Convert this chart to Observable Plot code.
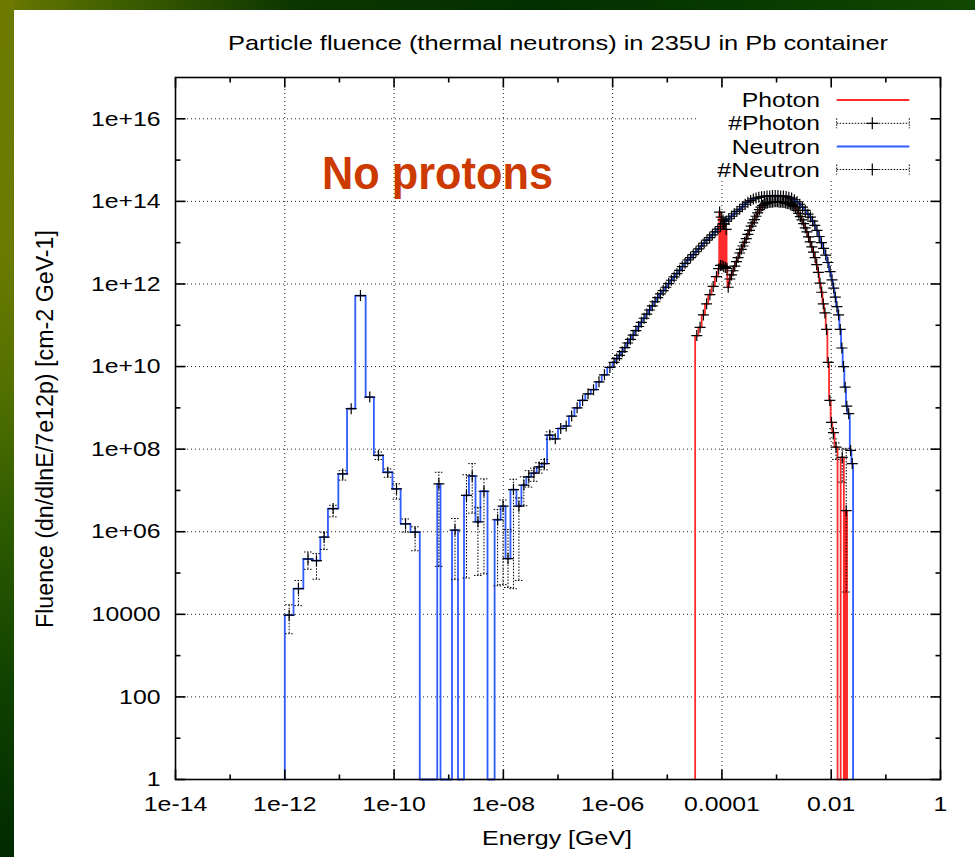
<!DOCTYPE html>
<html><head><meta charset="utf-8">
<script src="https://cdn.jsdelivr.net/npm/d3@7"></script>
<script src="https://cdn.jsdelivr.net/npm/@observablehq/plot@0.6"></script>
<style>
html,body{margin:0;padding:0;background:#fff;}
#page{position:relative;width:975px;height:857px;overflow:hidden;background:#fff;}
#bandTop{position:absolute;left:0;top:0;width:975px;height:10px;background:linear-gradient(to right,#6b7900 0%,#3f5f00 12%,#0c3600 30%,#023000 55%,#083c00 80%,#124800 100%);}
#bandLeft{position:absolute;left:0;top:0;width:14px;height:857px;background:linear-gradient(to bottom,#6c7a00 0%,#6a7a00 30%,#537000 45%,#2c5a00 62%,#0f4200 80%,#002a00 100%);}
#chart{position:absolute;left:0;top:0;}
#overlay{position:absolute;left:0;top:0;pointer-events:none;}
</style></head>
<body><div id="page"><div id="bandTop"></div><div id="bandLeft"></div><div id="chart"></div><svg id="overlay" width="975" height="857"></svg></div>
<script>
// ---- texts ----
const titleText = "Particle fluence (thermal neutrons) in 235U in Pb container";
const xLabelText = "Energy [GeV]";
const yLabelText = "Fluence (dn/dlnE/7e12p) [cm-2 GeV-1]";
const noteText = "No protons";
const legendLabels = ["Photon", "#Photon", "Neutron", "#Neutron"];

// ---- axes ----
const xDomain = [1e-14, 1];
const yDomain = [1, 1e17];
const xTicksMajor = [1e-14, 1e-12, 1e-10, 1e-8, 1e-6, 1e-4, 1e-2, 1];
const xTickLabels = ["1e-14", "1e-12", "1e-10", "1e-08", "1e-06", "0.0001", "0.01", "1"];
const xTicksMinor = [1e-13, 1e-11, 1e-9, 1e-7, 1e-5, 1e-3, 1e-1];
const yTicksMajor = [1, 1e2, 1e4, 1e6, 1e8, 1e10, 1e12, 1e14, 1e16];
const yTickLabels = ["1", "100", "10000", "1e+06", "1e+08", "1e+10", "1e+12", "1e+14", "1e+16"];
const yTicksMinor = [10, 1e3, 1e5, 1e7, 1e9, 1e11, 1e13, 1e15];

// ---- neutron histogram: bin edges log10(E/GeV), log10 fluence per bin (0 = empty bin) ----
const neutronEdges = [
  -12.00, -11.84, -11.66, -11.49, -11.35, -11.21, -11.02, -10.86, -10.71, -10.52, -10.37, -10.20, -10.03, -9.88, -9.70, -9.53,
  -9.21, -9.15, -8.94, -8.83, -8.72, -8.63, -8.51, -8.42, -8.29, -8.16, -8.05, -7.96, -7.87, -7.76, -7.67, -7.58, -7.49, -7.39, -7.30, -7.20, -7.10,
  -7.00, -6.90, -6.80, -6.70, -6.60, -6.50, -6.40, -6.30, -6.20, -6.10, -6.00,
  -5.95, -5.90, -5.85, -5.80, -5.75, -5.70, -5.65, -5.60, -5.55, -5.50, -5.45, -5.40, -5.35, -5.30, -5.25, -5.20, -5.15, -5.10, -5.05, -5.00,
  -4.95, -4.90, -4.85, -4.80, -4.75, -4.70, -4.65, -4.60, -4.55, -4.50, -4.45, -4.40, -4.35, -4.30, -4.25, -4.20, -4.15, -4.10, -4.05, -4.00,
  -3.95, -3.90, -3.85, -3.80, -3.75, -3.70, -3.65, -3.60, -3.55, -3.50, -3.45, -3.40, -3.35, -3.30, -3.25, -3.20, -3.15, -3.10, -3.05, -3.00,
  -2.95, -2.90, -2.85, -2.80, -2.75, -2.70, -2.65, -2.60, -2.55, -2.50, -2.45, -2.40,
  -2.36, -2.32, -2.28, -2.24, -2.20, -2.16, -2.12, -2.08, -2.04, -2.00, -1.97, -1.94, -1.91, -1.88, -1.85, -1.82, -1.79, -1.76, -1.73, -1.70,
  -1.66, -1.63, -1.60
];
const neutronLogFluence = [
  3.98, 4.62, 5.34, 5.30, 5.87, 6.56, 7.40, 8.98, 11.72, 9.26, 7.85, 7.44, 7.04, 6.19, 5.99,
  0, 7.16, 0, 6.04, 0, 6.88, 7.35, 6.24, 6.98, 0, 6.29, 6.62, 5.35, 7.02, 6.62, 7.13, 7.33, 7.42, 7.57, 7.65, 8.34,
  8.25, 8.50, 8.56, 8.80, 9.00, 9.18, 9.34, 9.44, 9.63, 9.80, 9.98,
  10.10, 10.19, 10.27, 10.36, 10.46, 10.57, 10.66, 10.76, 10.87, 10.97, 11.07, 11.17, 11.27, 11.37, 11.47, 11.57, 11.67, 11.76, 11.84, 11.92,
  12.01, 12.09, 12.17, 12.25, 12.33, 12.42, 12.50, 12.58, 12.64, 12.71, 12.78, 12.85, 12.92, 12.99, 13.06, 13.12, 13.19, 13.26, 13.33, 13.39,
  13.46, 13.52, 13.58, 13.64, 13.70, 13.76, 13.81, 13.87, 13.93, 13.98, 14.02, 14.06, 14.08, 14.10, 14.11, 14.12, 14.13, 14.13, 14.14, 14.14,
  14.14, 14.13, 14.13, 14.12, 14.10, 14.08, 14.04, 13.99, 13.93, 13.86, 13.78, 13.69,
  13.62, 13.52, 13.42, 13.30, 13.15, 13.00, 12.86, 12.70, 12.52, 12.30, 12.10, 11.90, 11.68, 11.45, 11.25, 10.90, 10.45, 10.00, 9.50, 9.04,
  8.86, 7.97, 7.65
];
// error bars (decades below / above) for the first neutron bins
const neutronErrDown = [
  0.45, 0.41, 0.25, 0.45, 0.30, 0.20, 0.15, 0.05, 0.03, 0.05, 0.10, 0.12, 0.25, 0.20, 0.45,
  0, 2.0, 0, 1.2, 0, 2.0, 0.9, 1.3, 2.0, 0, 1.6, 1.9, 0.7, 2.4, 1.8, 0.5, 0.25, 0.2, 0.15, 0.15, 0.1
];
const neutronErrUp = [
  0.25, 0.20, 0.17, 0.17, 0.12, 0.08, 0.08, 0.05, 0.03, 0.05, 0.08, 0.08, 0.12, 0.12, 0.13,
  0, 0.28, 0, 0.28, 0, 0.5, 0.3, 0.35, 0.3, 0, 0.25, 0.15, 0.7, 0.25, 0.2, 0.2, 0.15, 0.12, 0.1, 0.1, 0.08
];

// ---- photon histogram ----
const photonEdges = [
  -4.49, -4.43, -4.37, -4.31, -4.25, -4.19, -4.13, -4.07, -4.05,
  -4.035, -4.02, -4.005, -3.99, -3.975, -3.96, -3.945, -3.93, -3.915, -3.90,
  -3.87, -3.84, -3.81, -3.78, -3.75, -3.72, -3.69, -3.66, -3.63, -3.60, -3.57, -3.54, -3.51, -3.48, -3.45, -3.42, -3.39, -3.36, -3.33, -3.30,
  -3.27, -3.24, -3.21, -3.18, -3.15, -3.12, -3.09, -3.06, -3.03, -3.00, -2.97, -2.94, -2.91, -2.88, -2.85, -2.82, -2.79, -2.76, -2.73, -2.70,
  -2.67, -2.64, -2.61, -2.58, -2.55, -2.52, -2.49, -2.46, -2.43, -2.40, -2.37, -2.34, -2.31, -2.28, -2.25, -2.22, -2.19, -2.16, -2.13,
  -2.10, -2.07, -2.04, -2.01, -1.98, -1.94, -1.884, -1.827, -1.769, -1.740, -1.710
];
const photonLogFluence = [
  10.75, 10.95, 11.25, 11.52, 11.74, 11.94, 12.18, 12.37,
  13.74, 12.45, 13.62, 12.45, 13.55, 12.42, 13.45, 12.40, 13.32, 12.38,
  11.92,
  12.12, 12.22, 12.32, 12.43, 12.54, 12.64, 12.75, 12.84, 12.92, 13.01, 13.10, 13.20, 13.30, 13.40, 13.48, 13.56, 13.64, 13.72, 13.80, 13.86,
  13.90, 13.93, 13.95, 13.96, 13.97, 13.98, 13.98, 13.99, 13.99, 13.99, 13.98, 13.98, 13.98, 13.97, 13.96, 13.95, 13.94, 13.92, 13.90, 13.88,
  13.84, 13.78, 13.71, 13.63, 13.55, 13.46, 13.36, 13.26, 13.14, 13.02, 12.90, 12.77, 12.64, 12.47, 12.28, 12.02, 11.80, 11.52,
  11.30, 10.90, 10.10, 9.18, 8.65, 8.40, 8.05, 0, 7.80, 0, 6.51
];
const photonErrBins = [82, 83, 85, 87];
const photonErrDown = [0.15, 0.3, 0.6, 1.97];
const photonErrUp = [0.1, 0.1, 0.2, 1.51];

// ---- colours ----
const neutronColor = "#2f5bff";
const photonColor = "#ff2b2b";
const noteColor = "#cc3a00";
const FONT = "'Liberation Sans', Arial, Helvetica, sans-serif";

// ---- derived tables ----
function stepPoints(edges, vals) {
  const pts = [{x: 10 ** edges[0], y: 1}];
  vals.forEach((v, i) => {
    const y = v > 0 ? 10 ** v : 1;
    pts.push({x: 10 ** edges[i], y}, {x: 10 ** edges[i + 1], y});
  });
  pts.push({x: 10 ** edges[edges.length - 1], y: 1});
  return pts;
}
function binCenters(edges, vals) {
  return vals.map((v, i) => ({x: 10 ** ((edges[i] + edges[i + 1]) / 2), y: 10 ** v, v, i})).filter(d => d.v > 0);
}
const neutronSteps = stepPoints(neutronEdges, neutronLogFluence);
const photonSteps = stepPoints(photonEdges, photonLogFluence);
const crosses = binCenters(neutronEdges, neutronLogFluence).concat(binCenters(photonEdges, photonLogFluence));

const errBars = [];
binCenters(neutronEdges, neutronLogFluence).forEach(d => {
  const dn = neutronErrDown[d.i] || 0, up = neutronErrUp[d.i] || 0;
  if (dn > 0.06 || up > 0.06) errBars.push({x: d.x, lo: 10 ** (d.v - dn), hi: 10 ** (d.v + up)});
});
photonErrBins.forEach((b, k) => {
  const v = photonLogFluence[b];
  const x = 10 ** ((photonEdges[b] + photonEdges[b + 1]) / 2);
  errBars.push({x, lo: 10 ** (v - photonErrDown[k]), hi: 10 ** (v + photonErrUp[k])});
});
const caps = errBars.flatMap(d => [{x: d.x, y: d.lo}, {x: d.x, y: d.hi}]);

// ---- custom symbols ----
const plusSym = {draw(c, s) { const r = Math.sqrt(s / Math.PI); c.moveTo(-r, 0); c.lineTo(r, 0); c.moveTo(0, -r); c.lineTo(0, r); }};
const hSym = {draw(c, s) { const r = Math.sqrt(s / Math.PI); c.moveTo(-r, 0); c.lineTo(r, 0); }};
const seg = (dx, dy) => ({draw(c, s) { const r = Math.sqrt(s / Math.PI); c.moveTo(0, 0); c.lineTo(dx * r, dy * r); }});

const tickStyle = {fill: "none", stroke: "black", strokeWidth: 1.6};
function tickMarks(vals, axis, len) {
  if (axis === "x") return [
    Plot.dot(vals, {x: d => d, y: () => yDomain[0], symbol: seg(0, -1), r: len, ...tickStyle}),
    Plot.dot(vals, {x: d => d, y: () => yDomain[1], symbol: seg(0, 1), r: len, ...tickStyle})
  ];
  return [
    Plot.dot(vals, {x: () => xDomain[0], y: d => d, symbol: seg(1, 0), r: len, ...tickStyle}),
    Plot.dot(vals, {x: () => xDomain[1], y: d => d, symbol: seg(-1, 0), r: len, ...tickStyle})
  ];
}

const plot = Plot.plot({
  width: 975, height: 857,
  marginLeft: 175, marginRight: 35, marginTop: 77, marginBottom: 78,
  style: {background: "transparent", fontFamily: FONT, fontSize: "21px", color: "black"},
  x: {type: "log", domain: xDomain},
  y: {type: "log", domain: yDomain},
  marks: [
    Plot.ruleX(xTicksMajor.slice(1, -1), {stroke: "#222", strokeWidth: 1, strokeDasharray: "1,3"}),
    Plot.ruleY(yTicksMajor.slice(1), {stroke: "#222", strokeWidth: 1, strokeDasharray: "1,3"}),
    Plot.line(neutronSteps, {x: "x", y: "y", stroke: neutronColor, strokeWidth: 1.8}),
    Plot.line(photonSteps, {x: "x", y: "y", stroke: photonColor, strokeWidth: 1.8}),
    Plot.ruleX(errBars, {x: "x", y1: "lo", y2: "hi", stroke: "black", strokeWidth: 1, strokeDasharray: "1.5,1.5"}),
    Plot.dot(caps, {x: "x", y: "y", symbol: hSym, r: 4, fill: "none", stroke: "black", strokeWidth: 1, strokeDasharray: "1.5,1.5"}),
    Plot.dot(crosses, {x: "x", y: "y", symbol: plusSym, r: 5.5, fill: "none", stroke: "black", strokeWidth: 1.2}),
    ...tickMarks(xTicksMajor, "x", 10),
    ...tickMarks(xTicksMinor, "x", 5),
    ...tickMarks(yTicksMajor, "y", 10),
    ...tickMarks(yTicksMinor, "y", 5),
    Plot.frame({stroke: "black", strokeWidth: 1.6}),
    Plot.axisX(xTicksMajor, {tickSize: 0, tickPadding: 17, label: null, tickFormat: d => xTickLabels[xTicksMajor.indexOf(d)]}),
    Plot.axisY(yTicksMajor, {tickSize: 0, tickPadding: 15, label: null, tickFormat: d => yTickLabels[yTicksMajor.indexOf(d)]})
  ]
});
document.getElementById("chart").append(plot);
plot.querySelectorAll("text").forEach(t => {
  const L = t.getComputedTextLength();
  t.setAttribute("textLength", (L * 1.18).toFixed(1));
  t.setAttribute("lengthAdjust", "spacingAndGlyphs");
});

// ---- overlay: title, axis titles, legend, note ----
const ov = d3.select("#overlay");
function addText(str, x, y, o = {}) {
  const t = ov.append("text").attr("x", x).attr("y", y)
    .attr("font-family", o.family || FONT).attr("font-size", o.size || 21)
    .attr("font-weight", o.weight || "normal").attr("fill", o.fill || "black")
    .attr("text-anchor", o.anchor || "start").text(str);
  if (o.transform) t.attr("transform", o.transform);
  if (o.len) t.attr("textLength", o.len).attr("lengthAdjust", "spacingAndGlyphs");
  return t;
}
addText(titleText, 558, 49.5, {anchor: "middle", len: 660});
addText(xLabelText, 557, 845, {anchor: "middle", len: 150});
addText(yLabelText, 0, 0, {anchor: "middle", size: 23, len: 398, transform: "translate(53,429) rotate(-90)"});
addText(noteText, 322, 189, {size: 46, weight: "bold", fill: noteColor, len: 231, family: "'Liberation Sans Narrow', " + FONT});

// legend
ov.append("rect").attr("x", 698).attr("y", 88).attr("width", 230).attr("height", 90).attr("fill", "white");
const legY = [100, 123.3, 146.5, 169.5];
const legLen = [78.3, 91.7, 88.3, 102.7];
legendLabels.forEach((s, i) => addText(s, 820, legY[i] + 7, {anchor: "end", len: legLen[i]}));
const lx1 = 836.7, lx2 = 909.3, lxm = 872.3;
[[0, photonColor], [2, neutronColor]].forEach(([i, c]) => {
  ov.append("line").attr("x1", lx1).attr("x2", lx2).attr("y1", legY[i]).attr("y2", legY[i]).attr("stroke", c).attr("stroke-width", 1.8);
});
[1, 3].forEach(i => {
  const y = legY[i];
  ov.append("line").attr("x1", lx1).attr("x2", lx2).attr("y1", y).attr("y2", y).attr("stroke", "black").attr("stroke-width", 1).attr("stroke-dasharray", "1.5,1.5");
  [lx1, lx2].forEach(x => ov.append("line").attr("x1", x).attr("x2", x).attr("y1", y - 5).attr("y2", y + 5).attr("stroke", "black").attr("stroke-width", 1).attr("stroke-dasharray", "1.5,1.5"));
  ov.append("path").attr("d", `M${lxm - 6},${y}H${lxm + 6}M${lxm},${y - 6}V${y + 6}`).attr("stroke", "black").attr("stroke-width", 1.2).attr("fill", "none");
});
</script></body></html>
